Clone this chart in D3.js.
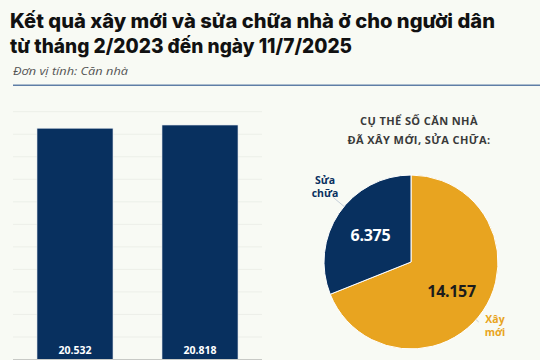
<!DOCTYPE html>
<html>
<head>
<meta charset="utf-8">
<script src="https://cdn.jsdelivr.net/npm/d3@7/dist/d3.min.js"></script>
<style>
  html, body { margin: 0; padding: 0; background: #f8faf4; }
  svg { display: block; }
</style>
</head>
<body>
<svg id="chart" width="540" height="360"></svg>
<script>
// ---- Data ----
const titleLines = ["Kết quả xây mới và sửa chữa nhà ở cho người dân", "từ tháng 2/2023 đến ngày 11/7/2025"];
const unitLabel = "Đơn vị tính: Căn nhà";
const barCategories = ["Cột 1", "Cột 2"];
const barValues = [20532, 20818];
const barLabels = ["20.532", "20.818"];
const gridTicks = [0, 2000, 4000, 6000, 8000, 10000, 12000, 14000, 16000, 18000, 20000, 22000];

const pieTitle = ["CỤ THỂ SỐ CĂN NHÀ", "ĐÃ XÂY MỚI, SỬA CHỮA:"];
const pieCategories = ["Xây mới", "Sửa chữa"];
const pieValues = [14157, 6375];
const pieLabels = ["14.157", "6.375"];
const pieNameLines = [["Xây", "mới"], ["Sửa", "chữa"]];

// ---- Styles ----
const NAVY = "#08305f";
const GOLD = "#e8a420";
const svg = d3.select("#chart");

// Title
const titleFont = "'Inter', 'Open Sans', sans-serif";
const tl = svg.append("g");
const titleWidths = [485, 342];
titleLines.forEach((t, i) => {
  tl.append("text")
    .attr("x", 10).attr("y", 28 + i * 24.7)
    .attr("font-family", titleFont).attr("font-weight", 800)
    .attr("font-size", 19.5).attr("fill", "#111")
    .attr("textLength", titleWidths[i]).attr("lengthAdjust", "spacingAndGlyphs")
    .text(t);
});
svg.append("text")
  .attr("x", 13).attr("y", 75)
  .attr("font-family", "'Open Sans', sans-serif").attr("font-style", "italic")
  .attr("font-size", 10).attr("fill", "#555")
  .attr("textLength", 115).attr("lengthAdjust", "spacingAndGlyphs")
  .text(unitLabel);
svg.append("line")
  .attr("x1", 13).attr("x2", 540).attr("y1", 85.3).attr("y2", 85.3)
  .attr("stroke", "#5f7ea6").attr("stroke-width", 1.6);

// ---- Bar chart ----
const y = d3.scaleLinear().domain([0, 22000]).range([359.5, 111.7]);
const x = d3.scaleBand().domain(barCategories).range([13, 262]).paddingInner(0.392).paddingOuter(0.192);

svg.append("g").selectAll("line").data(gridTicks.filter(d => d > 0)).join("line")
  .attr("x1", 13).attr("x2", 262)
  .attr("y1", d => y(d)).attr("y2", d => y(d))
  .attr("stroke", "#ecefe8").attr("stroke-width", 1);

svg.append("g").selectAll("rect").data(barValues).join("rect")
  .attr("x", (d, i) => x(barCategories[i]))
  .attr("width", x.bandwidth())
  .attr("y", d => y(d))
  .attr("height", d => y(0) - y(d))
  .attr("fill", NAVY)
  .attr("stroke", "#dfe5ec").attr("stroke-width", 0.6);

svg.append("line")
  .attr("x1", 13).attr("x2", 262).attr("y1", 359.5).attr("y2", 359.5)
  .attr("stroke", "#c8cac6").attr("stroke-width", 1);

svg.append("g").selectAll("text").data(barLabels).join("text")
  .attr("x", (d, i) => x(barCategories[i]) + x.bandwidth() / 2)
  .attr("y", 353.5)
  .attr("text-anchor", "middle")
  .attr("font-family", "'Open Sans', sans-serif").attr("font-weight", 700)
  .attr("font-size", 10.5).attr("fill", "#fff")
  .text(d => d);

// ---- Pie chart ----
const cx = 411, cy = 262, r = 87;
svg.append("g").selectAll("text").data(pieTitle).join("text")
  .attr("x", 419).attr("y", (d, i) => 125 + i * 18.5)
  .attr("text-anchor", "middle")
  .attr("font-family", "'Open Sans', sans-serif").attr("font-weight", 700)
  .attr("font-size", 11).attr("fill", "#3a3a3a")
  .attr("letter-spacing", 0.4)
  .text(d => d);

const pie = d3.pie().sort(null).value(d => d)(pieValues);
const arc = d3.arc().innerRadius(0).outerRadius(r);
const pg = svg.append("g").attr("transform", `translate(${cx},${cy})`);
pg.selectAll("path").data(pie).join("path")
  .attr("d", arc)
  .attr("fill", (d, i) => i === 0 ? GOLD : NAVY)
  .attr("stroke", "#fff").attr("stroke-width", 1);

// value labels
const labelArc = d3.arc().innerRadius(r * 0.48).outerRadius(r * 0.48);
const valOffsets = [[6, 6], [-6, -4]];
pg.selectAll("text.val").data(pie).join("text")
  .attr("class", "val")
  .attr("x", (d, i) => labelArc.centroid(d)[0] + valOffsets[i][0])
  .attr("y", (d, i) => labelArc.centroid(d)[1] + valOffsets[i][1] + 6)
  .attr("text-anchor", "middle")
  .attr("font-family", "'Open Sans', sans-serif").attr("font-weight", 700)
  .attr("font-size", 16).attr("letter-spacing", -0.3)
  .attr("fill", (d, i) => i === 0 ? "#1c1c1c" : "#fff")
  .text((d, i) => pieLabels[i]);

// name labels with leader lines
const nameAnchor = [[84, 61], [-86, -78]];
pie.forEach((d, i) => {
  const ang = d.startAngle + (d.endAngle - d.startAngle) * (i === 0 ? 0.53 : 0.55);
  const p1 = [Math.sin(ang) * r, -Math.cos(ang) * r];
  const p2 = [Math.sin(ang) * r * (i === 0 ? 1.04 : 1.16), -Math.cos(ang) * r * (i === 0 ? 1.04 : 1.16)];
  pg.append("line")
    .attr("x1", p1[0]).attr("y1", p1[1]).attr("x2", p2[0]).attr("y2", p2[1])
    .attr("stroke", "#b8c3d0").attr("stroke-width", 0.8);
  const txt = pg.append("text")
    .attr("text-anchor", "middle")
    .attr("font-family", "'Open Sans', sans-serif").attr("font-weight", 700)
    .attr("font-size", 10.5).attr("fill", i === 0 ? GOLD : NAVY);
  pieNameLines[i].forEach((t, j) => {
    txt.append("tspan")
      .attr("x", nameAnchor[i][0]).attr("y", nameAnchor[i][1] + j * 13)
      .text(t);
  });
});
</script>
</body>
</html>
